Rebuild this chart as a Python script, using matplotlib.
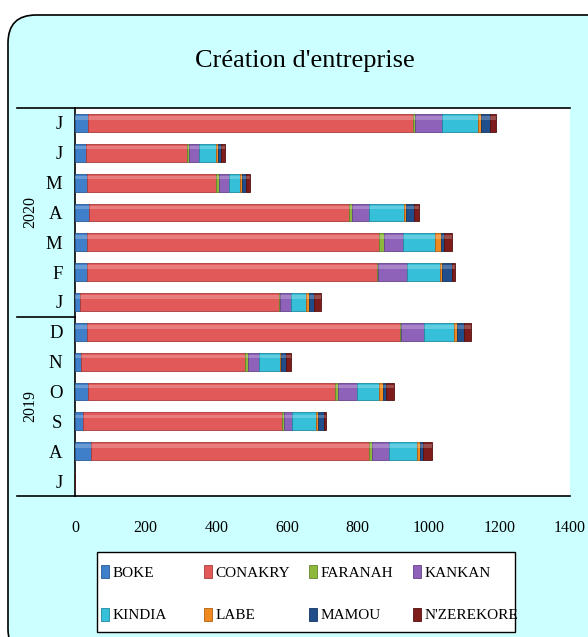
import matplotlib
matplotlib.use("Agg")
import matplotlib.pyplot as plt
import numpy as np
from matplotlib.patches import FancyBboxPatch, Rectangle

# ---------------------------------------------------------------------------
# Data (bottom row first: Jul 2019 ... Jul 2020)
# ---------------------------------------------------------------------------
months = ['J', 'A', 'S', 'O', 'N', 'D', 'J', 'F', 'M', 'A', 'M', 'J', 'J']
years = ['2019', '2020']

boke      = [0, 45, 22, 37, 18, 35, 15, 35, 35, 40, 33, 32, 37]
conakry   = [0, 787, 563, 697, 463, 884, 562, 818, 825, 735, 367, 286, 920]
faranah   = [0, 8, 5, 9, 7, 2, 2, 4, 13, 8, 6, 5, 5]
kankan    = [0, 49, 25, 54, 31, 66, 31, 83, 55, 49, 30, 28, 77]
kindia    = [0, 77, 66, 64, 61, 85, 42, 92, 91, 99, 32, 49, 102]
labe      = [0, 9, 5, 11, 3, 9, 11, 6, 15, 6, 5, 5, 8]
mamou     = [0, 8, 17, 8, 14, 19, 14, 27, 11, 23, 10, 8, 25]
nzerekore = [0, 26, 7, 21, 14, 19, 19, 11, 22, 12, 11, 12, 17]

regions = ['BOKE', 'CONAKRY', 'FARANAH', 'KANKAN', 'KINDIA', 'LABE', 'MAMOU', "N'ZEREKORE"]
series = [boke, conakry, faranah, kankan, kindia, labe, mamou, nzerekore]
colors = ['#3F7EC8', '#E25959', '#8DB83C', '#8E62B8', '#36BFD9', '#F0891F', '#1F4E8A', '#7E1C1C']
edges = ['#285A96', '#A83A3A', '#62862A', '#62428A', '#1F8AA0', '#B0600F', '#123563', '#541010']

BG = '#CCFFFF'
FONT = ['Liberation Serif', 'DejaVu Serif']

# ---------------------------------------------------------------------------
# Figure
# ---------------------------------------------------------------------------
plt.rcParams['font.family'] = FONT
fig = plt.figure(figsize=(5.88, 6.37), dpi=100, facecolor='white')

frame = FancyBboxPatch((0.08, -0.2), 6.1, 6.42,
                       boxstyle="round,pad=0,rounding_size=0.28",
                       transform=fig.dpi_scale_trans, facecolor=BG,
                       edgecolor='black', linewidth=1.2, zorder=-5)
fig.patches.append(frame)

ax = fig.add_axes([75 / 588, 1 - 496 / 637, 495 / 588, 388 / 637], zorder=2)
ax.set_facecolor('white')

y = np.arange(len(months))
left = np.zeros(len(months))
for name, vals, c, ec in zip(regions, series, colors, edges):
    vals = np.array(vals, dtype=float)
    ax.barh(y, vals, left=left, height=0.6, color=c, edgecolor=ec,
            linewidth=0.6, label=name, zorder=3)
    # light bevel on top of each segment
    ax.barh(y + 0.17, vals, left=left, height=0.12, color='white',
            alpha=0.22, linewidth=0, zorder=4)
    left += vals

ax.set_xlim(0, 1400)
ax.set_ylim(-0.5, len(months) - 0.5)
ax.set_xticks(np.arange(0, 1401, 200))
ax.set_yticks(y)
ax.set_yticklabels(months, fontsize=13.5)
ax.tick_params(axis='x', length=0, pad=17, labelsize=11.5)
ax.tick_params(axis='y', length=0, pad=9)

for side in ['top', 'bottom', 'left']:
    ax.spines[side].set_color('black')
    ax.spines[side].set_linewidth(1.2)
ax.spines['right'].set_visible(False)

# category table lines on the left
trans = ax.get_yaxis_transform()
for yy in [-0.5, 5.5, len(months) - 0.5]:
    ax.plot([-0.118, 0], [yy, yy], color='black', lw=1.2,
            transform=trans, clip_on=False)

ax.text(-0.091, 2.5, years[0], transform=trans, rotation=90,
        ha='center', va='center', fontsize=11.5)
ax.text(-0.091, 9.0, years[1], transform=trans, rotation=90,
        ha='center', va='center', fontsize=11.5)

fig.text(305 / 588, 1 - 61 / 637, "Création d'entreprise",
         ha='center', va='center', fontsize=19)

# legend: white box with four evenly spaced columns of two entries
fig.patches.append(Rectangle((97 / 588, 1 - 632 / 637), 418 / 588, 80 / 637,
                             transform=fig.transFigure, facecolor='white',
                             edgecolor='black', linewidth=1.0, zorder=-1))
handles, labels = ax.get_legend_handles_labels()
col_x = [101, 204, 309, 413]
for k, x0 in enumerate(col_x):
    idx = [k, k + 4]
    fig.legend([handles[i] for i in idx], [labels[i] for i in idx],
               loc='upper left', bbox_to_anchor=(x0 / 588, 1 - 565 / 637),
               fontsize=11, frameon=False, handlelength=0.55,
               handleheight=0.9, handletextpad=0.2, labelspacing=1.85,
               borderaxespad=0, borderpad=0)

fig.savefig('out.png', dpi=100, facecolor=fig.get_facecolor())
